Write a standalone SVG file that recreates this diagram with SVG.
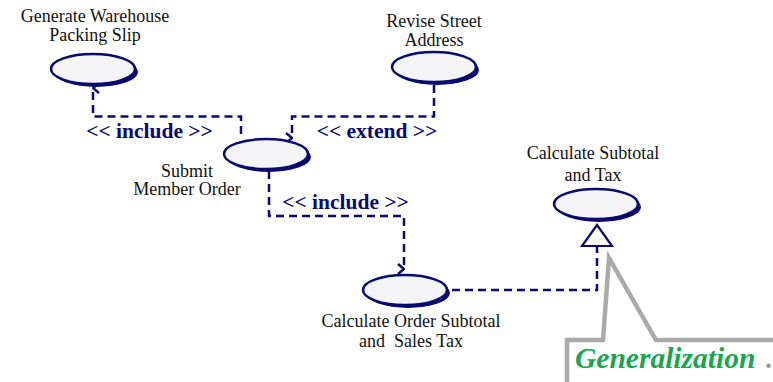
<svg xmlns="http://www.w3.org/2000/svg" width="773" height="382" viewBox="0 0 773 382">
<defs>
<style>
.lbl{font-size:18px;fill:#111;text-anchor:middle}
.st{font-size:21.5px;font-weight:bold;fill:#0a0a70;text-anchor:middle}
.uc-sh{fill:#0a0a70}
.uc{fill:#f4f4f6;stroke:#0a0a70;stroke-width:2.5}
.dash{fill:none;stroke:#0a0a70;stroke-width:2.5;stroke-dasharray:8 5}
.note{fill:#fff;stroke:#aaaaaa;stroke-width:4.5;stroke-linejoin:miter}
.gen{font-size:29.5px;font-weight:bold;font-style:italic;fill:#1aa650}
</style>
<marker id="open" viewBox="0 0 12 12" refX="6" refY="1" markerWidth="12" markerHeight="12" markerUnits="userSpaceOnUse" orient="auto-start-reverse">
<path d="M1 7 L6 1 L11 7" fill="none" stroke="#0a0a70" stroke-width="2.5"/>
</marker>
</defs>
<rect width="773" height="382" fill="#fff"/>

<g id="note">
<polygon class="note" points="567,390 567,340 603,340 609,258 656,340 780,340 780,390"/>
<text class="gen" font-family="Liberation Serif" x="575" y="368">Generalization</text>
<text font-family="Liberation Serif" x="765" y="368" font-size="28" font-weight="bold" fill="#999">.</text>
</g>

<g id="connectors">
<path class="dash" d="M241 134 V116.5 H93 V88" marker-end="url(#open)"/>
<path class="dash" d="M434 85 V116.5 H292 V138" marker-end="url(#open)"/>
<path class="dash" d="M269 171 V216 H404 V269" marker-end="url(#open)"/>
<path class="dash" d="M452 290 H597 V247"/>
<polygon points="597,225 582,246 612,246" fill="#fff" stroke="#0a0a70" stroke-width="2.2"/>
<text class="st" font-family="Liberation Serif" x="149.5" y="138">&lt;&lt; include &gt;&gt;</text>
<text class="st" font-family="Liberation Serif" x="377" y="138">&lt;&lt; extend &gt;&gt;</text>
<text class="st" font-family="Liberation Serif" x="345.5" y="209">&lt;&lt; include &gt;&gt;</text>
</g>

<g id="uc-generate">
<ellipse class="uc-sh" cx="96" cy="72" rx="42" ry="15"/>
<ellipse class="uc" cx="93" cy="69" rx="42" ry="15"/>
<text class="lbl" font-family="Liberation Serif" x="95" y="22">Generate Warehouse</text>
<text class="lbl" font-family="Liberation Serif" x="95" y="41">Packing Slip</text>
</g>

<g id="uc-revise">
<ellipse class="uc-sh" cx="437" cy="70" rx="42" ry="15"/>
<ellipse class="uc" cx="434" cy="67" rx="42" ry="15"/>
<text class="lbl" font-family="Liberation Serif" x="434" y="27">Revise Street</text>
<text class="lbl" font-family="Liberation Serif" x="434" y="46">Address</text>
</g>

<g id="uc-submit">
<ellipse class="uc-sh" cx="269" cy="157" rx="42" ry="15"/>
<ellipse class="uc" cx="266" cy="154" rx="42" ry="15"/>
<text class="lbl" font-family="Liberation Serif" x="187" y="176.5">Submit</text>
<text class="lbl" font-family="Liberation Serif" x="187" y="195">Member Order</text>
</g>

<g id="uc-calc-subtotal">
<ellipse class="uc-sh" cx="599" cy="207" rx="42" ry="15"/>
<ellipse class="uc" cx="596" cy="204" rx="42" ry="15"/>
<text class="lbl" font-family="Liberation Serif" x="593" y="159">Calculate Subtotal</text>
<text class="lbl" font-family="Liberation Serif" x="593" y="181">and Tax</text>
</g>

<g id="uc-calc-order">
<ellipse class="uc-sh" cx="408" cy="293" rx="42" ry="15"/>
<ellipse class="uc" cx="405" cy="290" rx="42" ry="15"/>
<text class="lbl" font-family="Liberation Serif" x="411" y="327">Calculate Order Subtotal</text>
<text class="lbl" font-family="Liberation Serif" x="411" y="347" xml:space="preserve">and  Sales Tax</text>
</g>
</svg>
